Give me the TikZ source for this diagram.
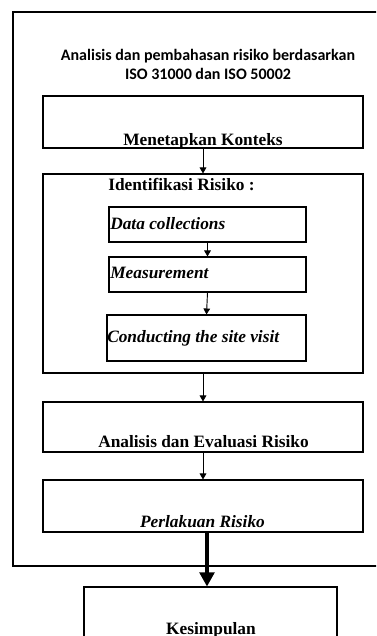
\documentclass[tikz,border=0pt]{standalone}
\usepackage{fontspec}
\setmainfont{Liberation Serif}
\newfontfamily\titlefont{Carlito}
\usetikzlibrary{arrows.meta}

\begin{document}
\begin{tikzpicture}[x=0.75pt, y=-0.75pt,
		kotak/.style={draw, line width=0.8pt, inner sep=0pt},
		label/.style={inner sep=0pt, font=\fontsize{13}{15}\selectfont\bfseries},
		panah/.style={-{Triangle[width=5pt,length=4.5pt]}, line width=0.7pt},
		panahtebal/.style={-{Triangle[width=11pt,length=10.5pt]}, line width=2.3pt}]
				\useasboundingbox (0, 0) rectangle (376, 636);
				\clip (0, 0) rectangle (376, 636);
				% bingkai luar
				\draw [line width=0.9pt] (380, 12) -- (13, 12) -- (13, 566) -- (380, 566);
				\node (judul) [anchor=north, align=center, inner sep=0pt, font=\titlefont\fontsize{12}{14.2}\selectfont\bfseries] at (208, 49)
					{Analisis dan pembahasan risiko berdasarkan\\ISO 31000 dan ISO 50002};
				% kotak-kotak
				\node (mk) [kotak, minimum width=240pt, minimum height=39pt] at (203, 122) {};
				\node (idk) [kotak, minimum width=240pt, minimum height=149.25pt] at (203, 273.5) {};
				\node (dc) [kotak, minimum width=147.75pt, minimum height=26.25pt] at (207.5, 224.5) {};
				\node (ms) [kotak, minimum width=147.75pt, minimum height=26.25pt] at (207.5, 274.5) {};
				\node (cv) [kotak, minimum width=149.25pt, minimum height=34.5pt] at (206.5, 338) {};
				\node (ae) [kotak, minimum width=240pt, minimum height=37.5pt] at (203, 427) {};
				\node (pr) [kotak, minimum width=240pt, minimum height=39pt] at (203, 506) {};
				\node (ks) [kotak, minimum width=189.75pt, minimum height=47.25pt] at (210.5, 618.5) {};
				% teks
				\node (mkt) [label, anchor=base] at (203, 145) {Menetapkan Konteks};
				\node (idkt) [label, anchor=base west] at (108, 190) {Identifikasi Risiko :};
				\node (dct) [label, anchor=base west] at (110, 229) {\itshape Data collections};
				\node (mst) [label, anchor=base west] at (110, 278) {\itshape Measurement};
				\node (cvt) [label, anchor=base west] at (107, 342) {\itshape Conducting the site visit};
				\node (aet) [label, anchor=base] at (203.5, 447) {Analisis dan Evaluasi Risiko};
				\node (prt) [label, anchor=base] at (202.5, 527) {\itshape Perlakuan Risiko};
				\node (kst) [label, anchor=base] at (211, 634) {Kesimpulan};
				% panah
				\draw [panah] (mk.south) -- (idk.north);
				\draw [panah] (dc.south) -- (ms.north);
				\draw [panah] (ms.south) -- (cv.north);
				\draw [panah] (idk.south) -- (ae.north);
				\draw [panah] (ae.south) -- (pr.north);
				\draw [panahtebal] ([xshift=3pt]pr.south) -- ([xshift=3pt]pr.south |- ks.north);
			\end{tikzpicture}
\end{document}
